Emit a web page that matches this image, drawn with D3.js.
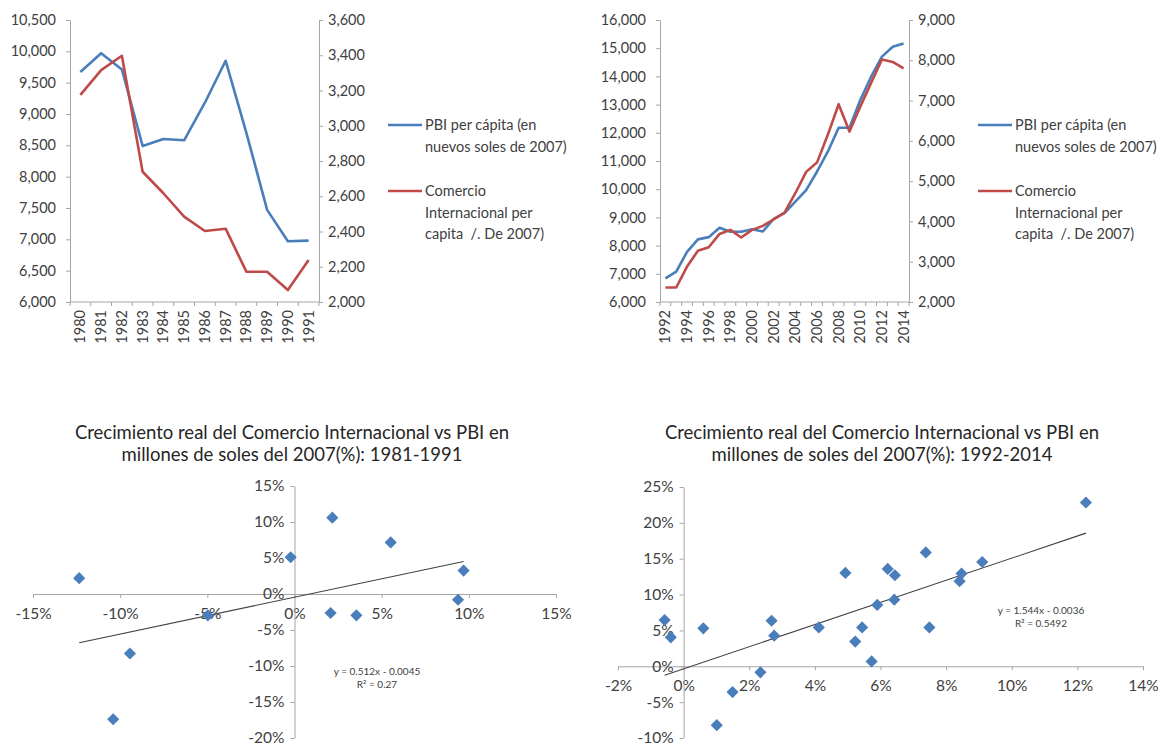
<!DOCTYPE html>
<html>
<head>
<meta charset="utf-8">
<script src="https://cdn.jsdelivr.net/npm/d3@7/dist/d3.min.js"></script>
<style>
  body { margin: 0; background: #fff; }
  svg { font-family: Lato, "Open Sans", sans-serif; }
</style>
</head>
<body>
<svg id="chart" width="1163" height="748"></svg>
<script>
// ---- data ----
const years80 = ["1980", "1981", "1982", "1983", "1984", "1985", "1986", "1987", "1988", "1989", "1990", "1991"];
const pbi80 = [9670, 9970, 9710, 8490, 8600, 8580, 9180, 9850, 8700, 7470, 6970, 6980];
const trade80 = [3175, 3316, 3397, 2739, 2617, 2484, 2403, 2416, 2172, 2172, 2068, 2238];

const years92 = ["1992", "1993", "1994", "1995", "1996", "1997", "1998", "1999", "2000", "2001", "2002", "2003",
  "2004", "2005", "2006", "2007", "2008", "2009", "2010", "2011", "2012", "2013", "2014"];
const pbi92 = [6840, 7075, 7780, 8220, 8300, 8630, 8490, 8490, 8580, 8500, 8950, 9150,
  9560, 9970, 10620, 11330, 12180, 12180, 13160, 13990, 14700, 15050, 15170];
const trade92 = [2360, 2360, 2880, 3270, 3360, 3690, 3790, 3600, 3790, 3890, 4050, 4220,
  4700, 5230, 5460, 6150, 6910, 6230, 6850, 7440, 8020, 7960, 7800];

const ticksPbi80 = [6000, 6500, 7000, 7500, 8000, 8500, 9000, 9500, 10000, 10500];
const ticksTrade80 = [2000, 2200, 2400, 2600, 2800, 3000, 3200, 3400, 3600];
const ticksPbi92 = [6000, 7000, 8000, 9000, 10000, 11000, 12000, 13000, 14000, 15000, 16000];
const ticksTrade92 = [2000, 3000, 4000, 5000, 6000, 7000, 8000, 9000];

// growth of PBI (x) vs growth of trade (y), in %
const growth80x = [-12.35, -0.22, 2.17, 5.52, 9.7, 9.38, 2.07, 3.55, -4.97, -9.44, -10.4];
const growth80y = [2.2, 5.1, 10.6, 7.17, 3.25, -0.8, -2.64, -2.96, -2.96, -8.26, -17.4];
const growth92x = [12.26, 7.38, 9.1, 4.93, 6.22, 6.44, 8.47, 8.41, 6.42, 5.9, 7.49, 5.44,
  5.23, 5.73, 4.12, 2.68, 2.76, 2.34, 1.49, 1.01, 0.6, -0.58, -0.39];
const growth92y = [22.84, 15.88, 14.54, 13.02, 13.58, 12.7, 12.93, 11.87, 9.29, 8.56, 5.42, 5.42,
  3.44, 0.68, 5.42, 6.35, 4.27, -0.84, -3.6, -8.21, 5.29, 6.44, 4.04];

const ticksX80 = [-15, -10, -5, 0, 5, 10, 15];
const ticksY80 = [-20, -15, -10, -5, 0, 5, 10, 15];
const ticksX92 = [-2, 0, 2, 4, 6, 8, 10, 12, 14];
const ticksY92 = [-10, -5, 0, 5, 10, 15, 20, 25];

// trend lines as printed on the charts
const trend80 = { slope: 0.512, intercept: -0.0045, r2: "0.27" };
const trend92 = { slope: 1.544, intercept: -0.0036, r2: "0.5492" };

const legendPbi = ["PBI per cápita (en", "nuevos soles de 2007)"];
const legendTrade = ["Comercio", "Internacional per", "capita  /. De 2007)"];
const title80 = ["Crecimiento real del Comercio Internacional vs PBI en", "millones de soles del 2007(%): 1981-1991"];
const title92 = ["Crecimiento real del Comercio Internacional vs PBI en", "millones de soles del 2007(%): 1992-2014"];

const BLUE = "#4a7ebb";
const RED = "#be4b48";
const AXIS = "#a6a6a6";
const TEXT = "#404040";

const svg = d3.select("#chart");
svg.append("rect").attr("width", 1163).attr("height", 748).attr("fill", "#fff");

function styleAxis(g, size) {
  g.select(".domain").attr("stroke", AXIS);
  g.selectAll(".tick line").attr("stroke", AXIS);
  g.selectAll(".tick text")
    .attr("fill", TEXT)
    .attr("font-size", size)
    .attr("font-family", "Lato, 'Open Sans', sans-serif");
}

function lineChart(o) {
  var g = svg.append("g");
  var x = d3.scaleBand().domain(o.years).range([o.left, o.right]);
  var yL = d3.scaleLinear().domain(d3.extent(o.ticksL)).range([o.bottom, o.top]);
  var yR = d3.scaleLinear().domain(d3.extent(o.ticksR)).range([o.bottom, o.top]);

  g.append("g")
    .attr("transform", "translate(" + o.left + ",0)")
    .call(d3.axisLeft(yL).tickValues(o.ticksL).tickFormat(d3.format(",")).tickSize(4).tickSizeOuter(0).tickPadding(10))
    .call(styleAxis, 14.5);
  g.append("g")
    .attr("transform", "translate(" + o.right + ",0)")
    .call(d3.axisRight(yR).tickValues(o.ticksR).tickFormat(d3.format(",")).tickSize(4).tickSizeOuter(0).tickPadding(5))
    .call(styleAxis, 14.5);

  // category axis: ticks sit between the years
  g.append("line")
    .attr("x1", o.left).attr("x2", o.right)
    .attr("y1", o.bottom).attr("y2", o.bottom)
    .attr("stroke", AXIS);
  g.selectAll("line.cat-tick")
    .data(o.years.concat(["end"]))
    .enter()
    .append("line")
    .attr("class", "cat-tick")
    .attr("x1", (d) => d === "end" ? o.right : x(d))
    .attr("x2", (d) => d === "end" ? o.right : x(d))
    .attr("y1", o.bottom).attr("y2", o.bottom + 4)
    .attr("stroke", AXIS);
  g.selectAll("text.year")
    .data(o.years.filter((d, i) => i % o.labelEvery === 0))
    .enter()
    .append("text")
    .attr("class", "year")
    .attr("transform", (d) => "translate(" + (x(d) + x.bandwidth() / 2) + "," + (o.bottom + 8) + ") rotate(-90)")
    .attr("text-anchor", "end")
    .attr("dy", "0.35em")
    .attr("font-size", 14.5)
    .attr("fill", TEXT)
    .text((d) => d);

  var series = [
    { values: o.pbi, y: yL, color: BLUE },
    { values: o.trade, y: yR, color: RED }
  ];
  series.forEach((s) => {
    var line = d3.line()
      .x((d, i) => x(o.years[i]) + x.bandwidth() / 2)
      .y((d) => s.y(d));
    g.append("path")
      .datum(s.values)
      .attr("d", line)
      .attr("fill", "none")
      .attr("stroke", s.color)
      .attr("stroke-width", 2.6)
      .attr("stroke-linejoin", "round");
  });

  // legend
  var items = [
    { lines: legendPbi, color: BLUE, y: o.legendY[0] },
    { lines: legendTrade, color: RED, y: o.legendY[1] }
  ];
  items.forEach((it) => {
    g.append("line")
      .attr("x1", o.legendX).attr("x2", o.legendX + 34)
      .attr("y1", it.y).attr("y2", it.y)
      .attr("stroke", it.color)
      .attr("stroke-width", 2.6);
    var t = g.append("text")
      .attr("font-size", 14.5)
      .attr("fill", TEXT);
    it.lines.forEach((ln, i) => {
      t.append("tspan")
        .attr("x", o.legendX + 37)
        .attr("y", it.y + i * 21.5)
        .attr("dy", "0.35em")
        .attr("xml:space", "preserve")
        .text(ln);
    });
  });
}

function scatterChart(o) {
  var g = svg.append("g");
  var x = d3.scaleLinear().domain(d3.extent(o.ticksX)).range([o.left, o.right]);
  var y = d3.scaleLinear().domain(d3.extent(o.ticksY)).range([o.bottom, o.top]);
  var pct = (d) => d + "%";

  g.append("g")
    .attr("transform", "translate(0," + y(0) + ")")
    .call(d3.axisBottom(x).tickValues(o.ticksX).tickFormat(pct).tickSize(4).tickSizeOuter(0).tickPadding(10))
    .call(styleAxis, 15.5);
  g.append("g")
    .attr("transform", "translate(" + x(0) + ",0)")
    .call(d3.axisLeft(y).tickValues(o.ticksY).tickFormat(pct).tickSize(4).tickSizeOuter(0).tickPadding(6))
    .call(styleAxis, 15.5);

  // title
  var t = g.append("text")
    .attr("text-anchor", "middle")
    .attr("font-size", 18.5)
    .attr("fill", "#262626");
  o.title.forEach((ln, i) => {
    t.append("tspan")
      .attr("x", o.titleX)
      .attr("y", 433 + i * 22)
      .attr("dy", "0.35em")
      .text(ln);
  });

  // trend line over the range of the points
  var xs = d3.extent(o.xs);
  g.append("line")
    .attr("x1", x(xs[0])).attr("x2", x(xs[1]))
    .attr("y1", y(100 * (o.trend.slope * xs[0] / 100 + o.trend.intercept)))
    .attr("y2", y(100 * (o.trend.slope * xs[1] / 100 + o.trend.intercept)))
    .attr("stroke", "#404040")
    .attr("stroke-width", 1.1);

  var pts = o.xs.map((d, i) => ({ x: d, y: o.ys[i] }));
  g.selectAll("path.pt")
    .data(pts)
    .enter()
    .append("path")
    .attr("class", "pt")
    .attr("d", d3.symbol().type(d3.symbolSquare).size(74))
    .attr("transform", (d) => "translate(" + x(d.x) + "," + y(d.y) + ") rotate(45)")
    .attr("fill", "#4a7ebb");

  var eq = g.append("text")
    .attr("text-anchor", "middle")
    .attr("font-size", 10)
    .attr("fill", TEXT);
  eq.append("tspan")
    .attr("x", o.eqX).attr("y", o.eqY).attr("dy", "0.35em")
    .text("y = " + o.trend.slope + "x - " + Math.abs(o.trend.intercept));
  eq.append("tspan")
    .attr("x", o.eqX).attr("y", o.eqY + 13.5).attr("dy", "0.35em")
    .text("R² = " + o.trend.r2);
}

lineChart({
  years: years80, pbi: pbi80, trade: trade80,
  ticksL: ticksPbi80, ticksR: ticksTrade80,
  left: 70, right: 319, top: 20, bottom: 302,
  labelEvery: 1,
  legendX: 388, legendY: [125, 191]
});
lineChart({
  years: years92, pbi: pbi92, trade: trade92,
  ticksL: ticksPbi92, ticksR: ticksTrade92,
  left: 660, right: 909, top: 20, bottom: 302,
  labelEvery: 2,
  legendX: 978, legendY: [125, 191]
});
scatterChart({
  xs: growth80x, ys: growth80y, trend: trend80, title: title80,
  ticksX: ticksX80, ticksY: ticksY80,
  left: 33, right: 556, top: 486, bottom: 738,
  titleX: 292, eqX: 377, eqY: 671
});
scatterChart({
  xs: growth92x, ys: growth92y, trend: trend92, title: title92,
  ticksX: ticksX92, ticksY: ticksY92,
  left: 618, right: 1143, top: 487, bottom: 738,
  titleX: 882, eqX: 1041, eqY: 610
});
</script>
</body>
</html>
